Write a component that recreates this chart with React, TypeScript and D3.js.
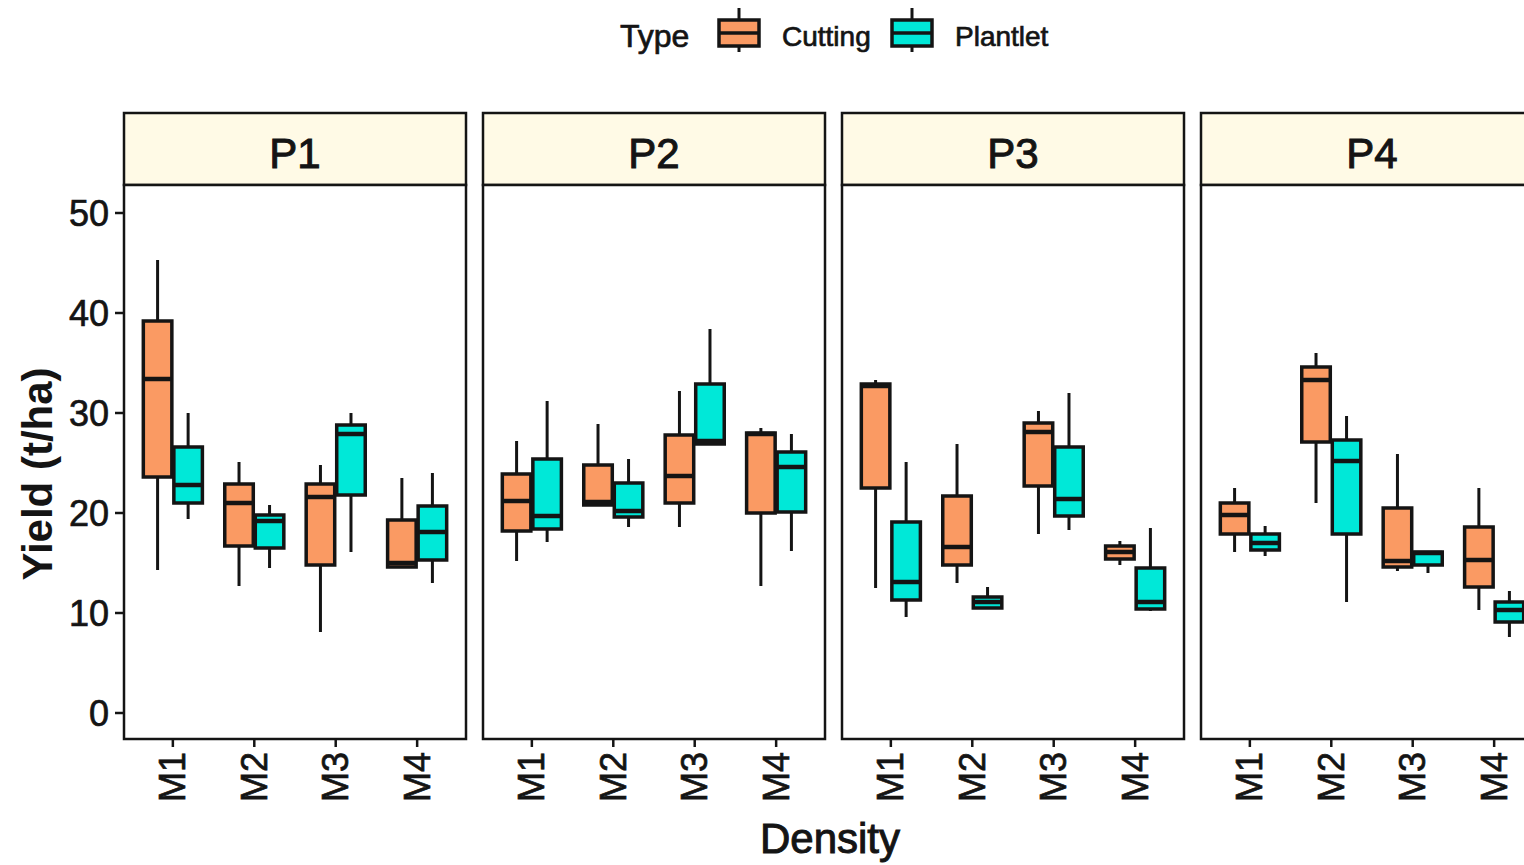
import * as d3 from "d3";

const panels = ["P1", "P2", "P3", "P4"];
const densities = ["M1", "M2", "M3", "M4"];
const types = ["Cutting", "Plantlet"];
const yTicks = [0, 10, 20, 30, 40, 50];

// [panel][density] -> [lower whisker, q1, median, q3, upper whisker]
const cuttingStats = [
  [[14.3, 23.6, 33.4, 39.2, 45.3], [12.7, 16.7, 21.0, 22.9, 25.1], [8.1, 14.8, 21.6, 22.9, 24.8], [14.6, 14.6, 15.0, 19.3, 23.5]],
  [[15.2, 18.2, 21.2, 23.9, 27.2], [20.8, 20.8, 21.1, 24.8, 28.9], [18.6, 21.0, 23.7, 27.8, 32.2], [12.7, 20.0, 27.9, 28.0, 28.5]],
  [[12.5, 22.5, 32.7, 32.9, 33.3], [13.0, 14.8, 16.6, 21.7, 26.9], [17.9, 22.7, 28.1, 29.0, 30.2], [14.8, 15.4, 16.1, 16.7, 17.2]],
  [[16.1, 17.9, 19.8, 21.0, 22.5], [21.0, 27.1, 33.3, 34.6, 36.0], [14.2, 14.6, 15.2, 20.5, 25.9], [10.3, 12.6, 15.3, 18.6, 22.5]],
];
const plantletStats = [
  [[19.4, 21.0, 22.8, 26.6, 30.0], [14.5, 16.5, 19.2, 19.8, 20.8], [16.1, 21.8, 27.9, 28.8, 30.0], [13.0, 15.3, 18.1, 20.7, 24.0]],
  [[17.1, 18.4, 19.7, 25.4, 31.2], [18.6, 19.6, 20.2, 23.0, 25.4], [26.9, 26.9, 27.2, 32.9, 38.4], [16.2, 20.1, 24.6, 26.1, 27.9]],
  [[9.6, 11.3, 13.1, 19.1, 25.1], [10.5, 10.5, 11.1, 11.6, 12.6], [18.3, 19.7, 21.4, 26.6, 32.0], [10.2, 10.4, 11.1, 14.5, 18.5]],
  [[15.7, 16.3, 17.0, 17.9, 18.7], [11.1, 17.9, 25.2, 27.3, 29.7], [14.0, 14.8, 16.0, 16.1, 16.1], [7.6, 9.1, 10.3, 11.1, 12.2]],
];

const FILL: Record<string, string> = { Cutting: "#fa9a63", Plantlet: "#00e8d8" };
const INK = "#141414";
const FONT = "'Liberation Sans', Arial, sans-serif";

const width = 1524;
const height = 865;
const plotTop = 185;
const plotBottom = 739;
const stripTop = 113;
const panelW = 342;
const panelGap = 17;
const left = 124;

// slightly heavier text, like the upscaled original
const heavy = { stroke: INK, strokeWidth: 0.7 };

export default function App() {
  const px = d3
    .scaleBand<string>()
    .domain(panels)
    .range([left, left + 4 * panelW + 3 * panelGap])
    .paddingInner(panelGap / (panelW + panelGap));
  const x = d3.scalePoint<string>().domain(densities).range([0, panelW]).padding(0.6);
  const step = x.step();
  const dodge = d3.scaleBand<string>().domain(types).range([-0.375 * step, 0.375 * step]);
  const y = d3.scaleLinear().domain([-2.6, 52.8]).range([plotBottom, plotTop]);

  const boxW = dodge.bandwidth();

  const box = (cx: number, s: number[], fill: string, key: string) => {
    const [lo, q1, med, q3, hi] = s;
    return (
      <g key={key}>
        <line x1={cx} x2={cx} y1={y(hi)} y2={y(lo)} stroke={INK} strokeWidth={3} />
        <rect
          x={cx - boxW / 2 + 1}
          y={y(q3)}
          width={boxW - 2}
          height={Math.max(y(q1) - y(q3), 1)}
          fill={fill}
          stroke={INK}
          strokeWidth={3.5}
        />
        <line x1={cx - boxW / 2 + 1} x2={cx + boxW / 2 - 1} y1={y(med)} y2={y(med)} stroke={INK} strokeWidth={4.5} />
      </g>
    );
  };

  return (
    <div style={{ position: "fixed", left: 0, top: 0 }}>
      <svg width={width} height={height} style={{ display: "block", background: "#fff" }} fontFamily={FONT}>
        {/* legend */}
        <text x={620} y={47} fontSize={32} fill={INK} {...heavy}>Type</text>
        {types.map((t, i) => {
          const kx = i === 0 ? 739 : 912;
          return (
            <g key={t}>
              <line x1={kx} x2={kx} y1={8} y2={52} stroke={INK} strokeWidth={3} />
              <rect x={kx - 20} y={20} width={40} height={26} fill={FILL[t]} stroke={INK} strokeWidth={3.5} />
              <line x1={kx - 20} x2={kx + 20} y1={33} y2={33} stroke={INK} strokeWidth={3.5} />
              <text x={kx + 43} y={46} fontSize={28} fill={INK} {...heavy}>{t}</text>
            </g>
          );
        })}

        {panels.map((p, pi) => {
          const x0 = px(p)!;
          return (
            <g key={p}>
              <rect x={x0} y={stripTop} width={panelW} height={plotTop - stripTop} fill="#fffae6" stroke={INK} strokeWidth={2.5} />
              <text x={x0 + panelW / 2} y={168} textAnchor="middle" fontSize={42} fill={INK} {...heavy} strokeWidth={1}>{p}</text>
              <rect x={x0} y={plotTop} width={panelW} height={plotBottom - plotTop} fill="#fff" stroke={INK} strokeWidth={2.5} />
              {densities.map((m, mi) => (
                <g key={m}>
                  {types.map((t) => {
                    const s = t === "Cutting" ? cuttingStats[pi][mi] : plantletStats[pi][mi];
                    const cx = x0 + x(m)! + dodge(t)! + boxW / 2;
                    return box(cx, s, FILL[t], t);
                  })}
                  <line x1={x0 + x(m)!} x2={x0 + x(m)!} y1={plotBottom} y2={plotBottom + 8} stroke={INK} strokeWidth={2.5} />
                  <text
                    transform={`translate(${x0 + x(m)!},${plotBottom + 13}) rotate(-90)`}
                    textAnchor="end"
                    dominantBaseline="central"
                    fontSize={36}
                    fill={INK}
                    {...heavy}
                  >
                    {m}
                  </text>
                </g>
              ))}
            </g>
          );
        })}

        {/* y axis */}
        {yTicks.map((v) => (
          <g key={v}>
            <line x1={left - 9} x2={left} y1={y(v)} y2={y(v)} stroke={INK} strokeWidth={2.5} />
            <text x={left - 15} y={y(v)} textAnchor="end" dominantBaseline="central" fontSize={36} fill={INK} {...heavy}>
              {v}
            </text>
          </g>
        ))}
        <text
          transform={`translate(52,${(plotTop + plotBottom) / 2 + 12}) rotate(-90)`}
          textAnchor="middle"
          fontSize={42}
          fontWeight="bold"
          fill={INK}
        >
          Yield (t/ha)
        </text>
        <text x={830} y={853} textAnchor="middle" fontSize={42} fill={INK} {...heavy} strokeWidth={1}>Density</text>
      </svg>
    </div>
  );
}
